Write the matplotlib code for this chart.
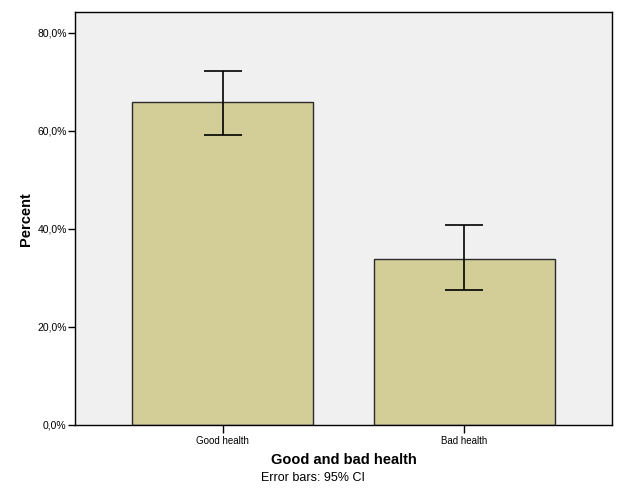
import matplotlib
matplotlib.use("Agg")
import matplotlib.pyplot as plt
from matplotlib.ticker import FuncFormatter

# data
categories = ["Good health", "Bad health"]
percent = [66.0, 33.9]
ci_low = [59.2, 27.6]
ci_high = [72.3, 40.8]

plt.rcParams['font.family'] = ['Liberation Sans', 'DejaVu Sans']

fig = plt.figure(figsize=(6.25, 5), dpi=100)
ax = fig.add_axes([0.12, 0.15, 0.8592, 0.8254])
ax.set_facecolor('#f0f0f0')

x = list(range(len(categories)))
yerr = [[p - lo for p, lo in zip(percent, ci_low)],
        [hi - p for p, hi in zip(percent, ci_high)]]
ax.bar(x, percent, width=0.75, color='#d3ce98', edgecolor='#2b2b2b', linewidth=1.0, zorder=2)
ax.errorbar(x, percent, yerr=yerr, fmt='none', ecolor='black', elinewidth=1.2,
            capsize=13.7, capthick=1.2, zorder=3)

ax.set_xlim(-0.612, 1.612)
ax.set_ylim(0, 84.2)
ax.set_yticks([0, 20, 40, 60, 80])
ax.yaxis.set_major_formatter(FuncFormatter(lambda v, p: ('%.1f%%' % v).replace('.', ',')))
ax.set_xticks(x)
ax.set_xticklabels(categories)
ax.tick_params(axis='y', length=5, width=1, labelsize=7.5, pad=1)
ax.tick_params(axis='x', length=6, width=1, labelsize=7, pad=2)
for s in ax.spines.values():
    s.set_color('black')
    s.set_linewidth(1.0)

ax.set_ylabel('Percent', fontsize=10.5, fontweight='bold', labelpad=3)
ax.set_xlabel('Good and bad health', fontsize=10.5, fontweight='bold', labelpad=5)
fig.text(0.5, 0.044, 'Error bars: 95% CI', ha='center', va='center', fontsize=9)

fig.savefig('out.png', dpi=100)
